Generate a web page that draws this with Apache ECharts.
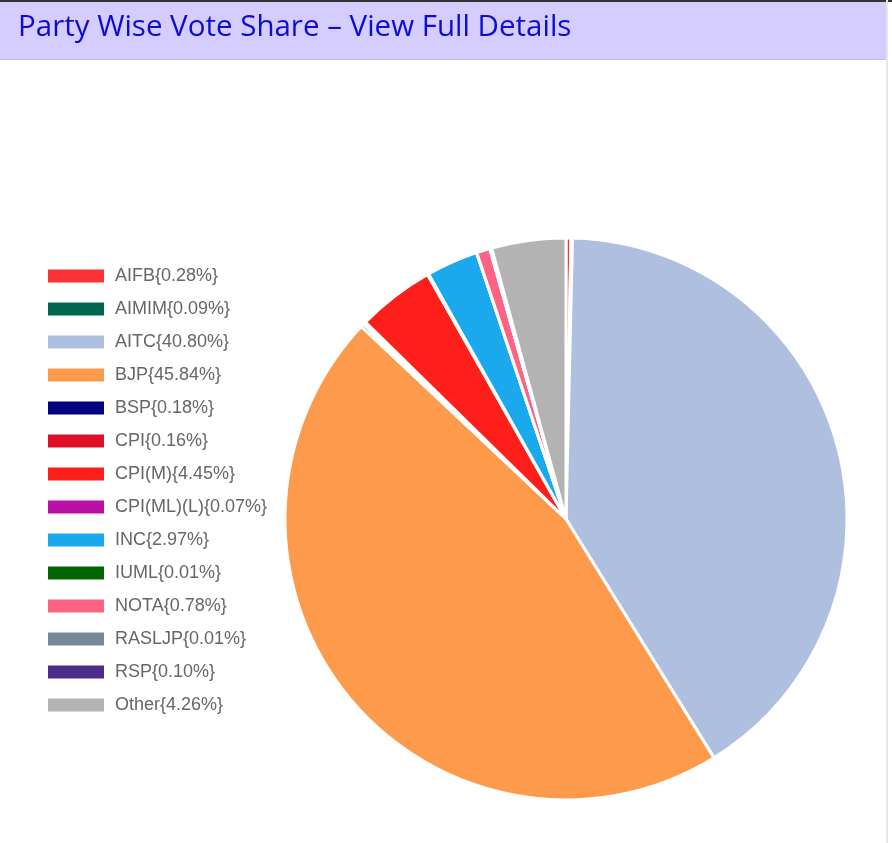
<!DOCTYPE html>
<html>
<head>
<meta charset="utf-8">
<script src="https://cdn.jsdelivr.net/npm/echarts@6/dist/echarts.min.js"></script>
<style>
html,body{margin:0;padding:0;background:#fff;}
#chart{width:892px;height:843px;}
</style>
</head>
<body>
<div id="chart"></div>
<script>
const titleText = 'Party Wise Vote Share \u2013 View Full Details';
const parties = ['AIFB','AIMIM','AITC','BJP','BSP','CPI','CPI(M)','CPI(ML)(L)','INC','IUML','NOTA','RASLJP','RSP','Other'];
const shares = [0.28,0.09,40.80,45.84,0.18,0.16,4.45,0.07,2.97,0.01,0.78,0.01,0.10,4.26];
const shareLabels = ['0.28%','0.09%','40.80%','45.84%','0.18%','0.16%','4.45%','0.07%','2.97%','0.01%','0.78%','0.01%','0.10%','4.26%'];
const colors = ['#fc3235','#00664f','#aebfe0','#fd9a4c','#000080','#e0102a','#ff1f1a','#b80fa8','#1aa9ec','#006400','#ff6384','#778899','#4b2c8a','#b3b3b3'];

const chart = echarts.init(document.getElementById('chart'), null, {renderer:'canvas'});
const labelMap = {};
parties.forEach((p,i)=>{ labelMap[p] = p + '{' + shareLabels[i] + '}'; });

chart.setOption({
  animation:false,
  graphic:[
    {type:'rect', shape:{x:0,y:0,width:886,height:59}, style:{fill:'#d5ccff'}, z:0},
    {type:'rect', shape:{x:0,y:0,width:892,height:2}, style:{fill:'#333'}, z:1},
    {type:'rect', shape:{x:0,y:59,width:886,height:1}, style:{fill:'#c4bde6'}, z:1},
    {type:'rect', shape:{x:886,y:0,width:2,height:843}, style:{fill:'#e6e6e6'}, z:1}
  ],
  title:{
    text:titleText,
    left:13, top:8,
    textStyle:{color:'#0c0cd6', fontSize:29.5, fontWeight:'normal', fontFamily:'Open Sans'}
  },
  legend:{
    orient:'vertical',
    left:41, top:262,
    icon:'rect',
    itemWidth:58, itemHeight:15,
    itemGap:15,
    selectedMode:false,
    formatter:function(name){ return labelMap[name]; },
    textStyle:{color:'#666', fontSize:18, fontFamily:'Liberation Sans', padding:[0,0,0,5]}
  },
  series:[{
    type:'pie',
    center:[566,519],
    radius:[0,281],
    startAngle:90,
    clockwise:true,
    label:{show:false},
    labelLine:{show:false},
    itemStyle:{borderColor:'#fff', borderWidth:3},
    emphasis:{disabled:true},
    data: parties.map((p,i)=>({name:p, value:shares[i], itemStyle:{color:colors[i]}}))
  }]
});
</script>
</body>
</html>
